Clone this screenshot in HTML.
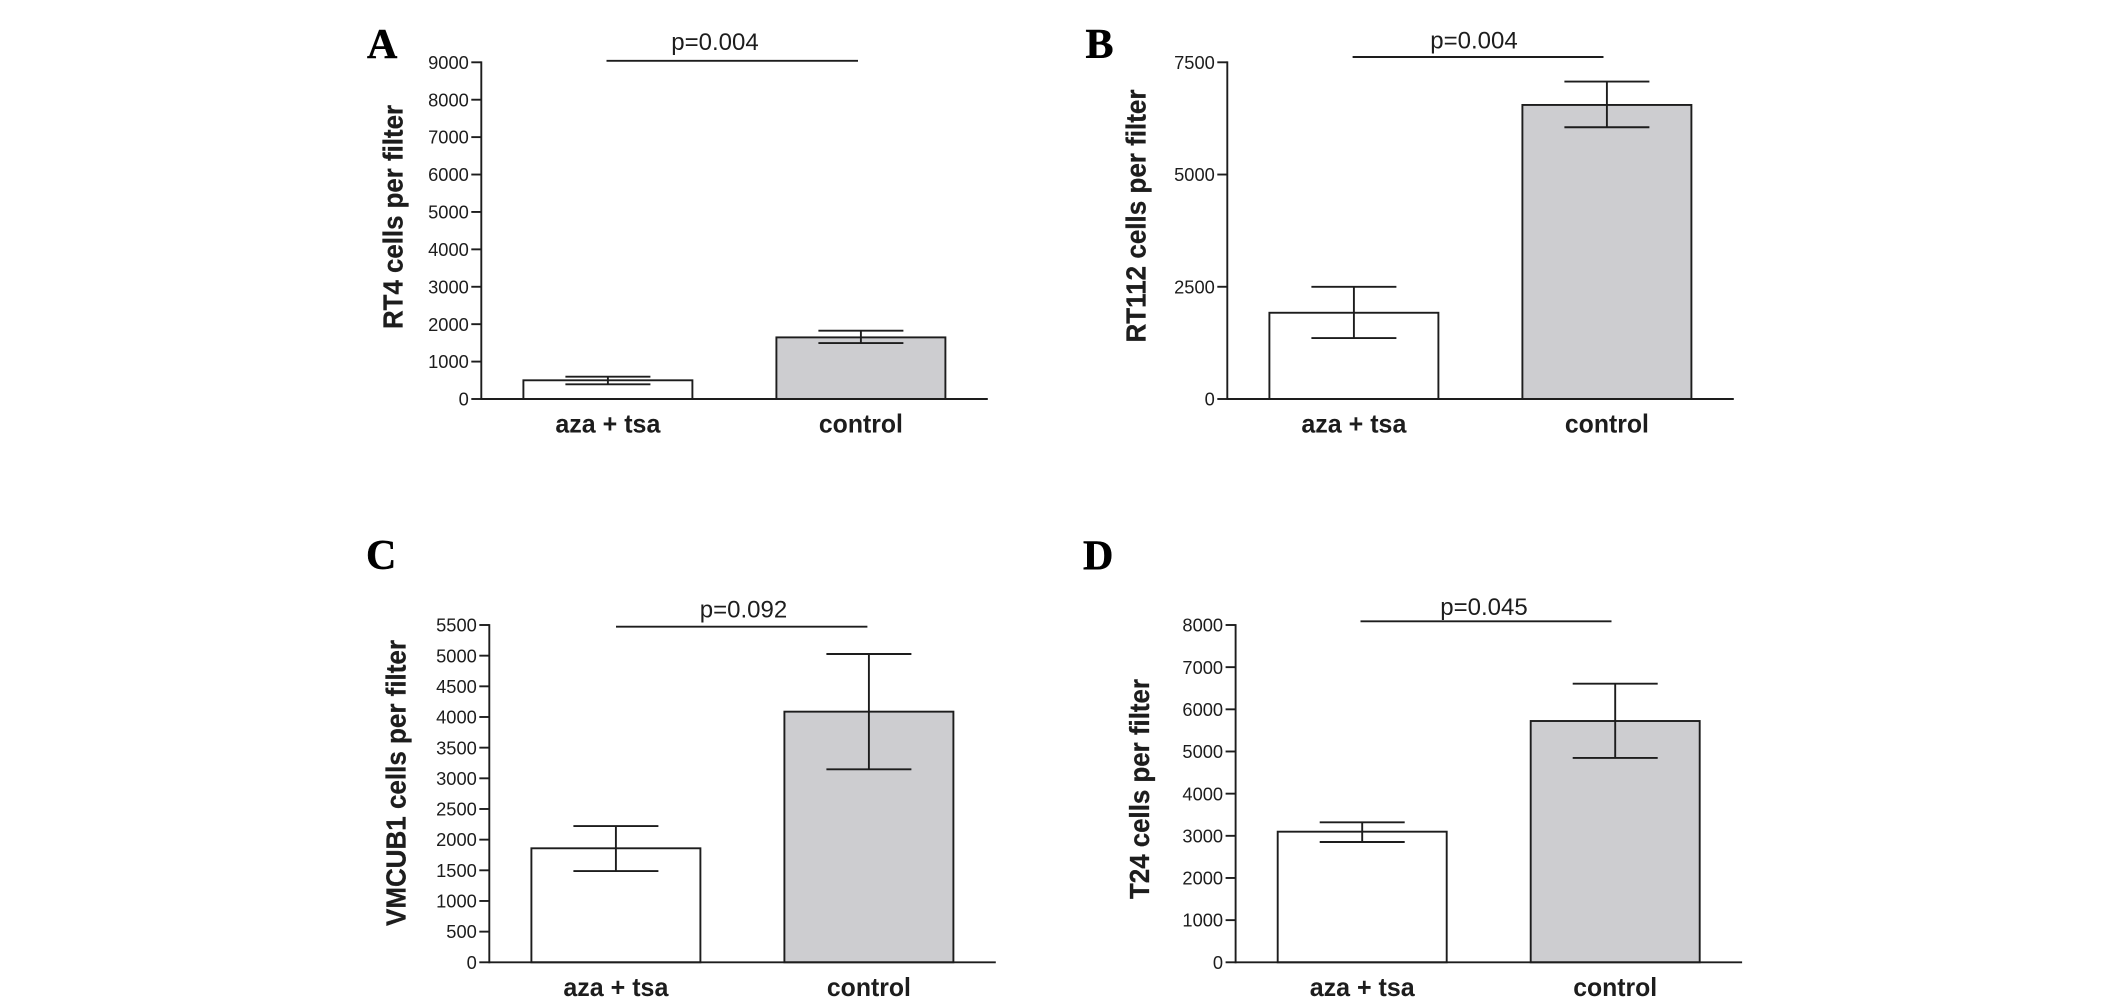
<!DOCTYPE html>
<html lang="en">
<head>
<meta charset="utf-8">
<title>Cells per filter: aza + tsa vs control</title>
<style>
html,body{margin:0;padding:0;background:#fff;}
body{width:2126px;height:1000px;overflow:hidden;}
svg{display:block;}
text{font-family:"Liberation Sans",sans-serif;fill:#1d1d1d;}
</style>
</head>
<body>
<svg id="figure" width="2126" height="1000" viewBox="0 0 2126 1000" xmlns="http://www.w3.org/2000/svg"></svg>
<script>
// ---- data ----
const categories = ['aza + tsa', 'control'];

const ticksA = [0, 1000, 2000, 3000, 4000, 5000, 6000, 7000, 8000, 9000];
const meansA = [500, 1647];
const errHighA = [596, 1825];
const errLowA = [392, 1495];

const ticksB = [0, 2500, 5000, 7500];
const meansB = [1921, 6550];
const errHighB = [2500, 7070];
const errLowB = [1358, 6053];

const ticksC = [0, 500, 1000, 1500, 2000, 2500, 3000, 3500, 4000, 4500, 5000, 5500];
const meansC = [1859, 4087];
const errHighC = [2222, 5027];
const errLowC = [1488, 3147];

const ticksD = [0, 1000, 2000, 3000, 4000, 5000, 6000, 7000, 8000];
const meansD = [3098, 5723];
const errHighD = [3320, 6608];
const errLowD = [2853, 4846];

// ---- panel layout ----
const panels = [
  {id:'a', letter:'A', letterX:367, letterY:58, axisX:481.3, top:62.3, bottom:399, title:'RT4 cells per filter', titleX:402.5, titleY:217, titleLen:224, pText:'p=0.004', pX:715, pY:50, lineX1:606.5, lineX2:858, lineY:60.8, ticks:ticksA, means:meansA, hi:errHighA, lo:errLowA},
  {id:'b', letter:'B', letterX:1085.5, letterY:58, axisX:1227.3, top:62.3, bottom:399, title:'RT112 cells per filter', titleX:1145.5, titleY:216, titleLen:253, pText:'p=0.004', pX:1474, pY:48.5, lineX1:1352.6, lineX2:1603.5, lineY:57, ticks:ticksB, means:meansB, hi:errHighB, lo:errLowB},
  {id:'c', letter:'C', letterX:366, letterY:569, axisX:489.3, top:625, bottom:962.3, title:'VMCUB1 cells per filter', titleX:405.5, titleY:783, titleLen:286, pText:'p=0.092', pX:743.5, pY:617.5, lineX1:616, lineX2:867.4, lineY:626.7, ticks:ticksC, means:meansC, hi:errHighC, lo:errLowC},
  {id:'d', letter:'D', letterX:1083, letterY:569.5, axisX:1235.6, top:625, bottom:962.3, title:'T24 cells per filter', titleX:1149, titleY:789, titleLen:220, pText:'p=0.045', pX:1484, pY:615, lineX1:1360.5, lineX2:1611.5, lineY:621.3, ticks:ticksD, means:meansD, hi:errHighD, lo:errLowD}
];

const NS = 'http://www.w3.org/2000/svg';
const INK = '#1d1d1d';
const LINE_W = 1.9;
const BAR_W = 169;
const CAP_HALF = 42.5;
const FIRST_BAR_OFFSET = 126.6;
const BAR_SPACING = 253;
const AXIS_LENGTH_X = 506.5;
const TICK_LEN = 10;
const BAR_FILLS = ['#ffffff', '#cdcdd0'];

function make(parent, tag, attrs, content) {
  const el = document.createElementNS(NS, tag);
  for (const k in attrs) el.setAttribute(k, attrs[k]);
  if (content !== undefined) el.textContent = content;
  parent.appendChild(el);
  return el;
}
function strokeLine(parent, x1, y1, x2, y2) {
  return make(parent, 'line', {x1: x1, y1: y1, x2: x2, y2: y2, stroke: INK, 'stroke-width': LINE_W});
}
function yScale(p, value) {
  const max = p.ticks[p.ticks.length - 1];
  return p.bottom - (value / max) * (p.bottom - p.top);
}
function xScale(p, index) {
  return p.axisX + FIRST_BAR_OFFSET + index * BAR_SPACING;
}

const svg = document.getElementById('figure');

panels.forEach(function (p) {
  const g = make(svg, 'g', {});
  
  

  const letter = make(g, 'text', {x: p.letterX, y: p.letterY, 'font-size': 42, 'font-weight': 'bold', stroke: '#000', 'stroke-width': 0.5, style: 'font-family:"Liberation Serif",serif;fill:#000'}, p.letter);
  
  

  const title = make(g, 'text', {x: 0, y: 0, 'font-size': 28, 'font-weight': 'bold', 'text-anchor': 'middle', stroke: INK, 'stroke-width': 0.3, textLength: p.titleLen, lengthAdjust: 'spacingAndGlyphs', transform: 'translate(' + p.titleX + ' ' + p.titleY + ') rotate(-90)'}, p.title);
  
  

  // bars first so axes and error bars sit on top
  categories.forEach(function (cat, i) {
    const cx = xScale(p, i);
    const top = yScale(p, p.means[i]);
    const bar = make(g, 'rect', {x: cx - BAR_W / 2, y: top, width: BAR_W, height: p.bottom - top, fill: BAR_FILLS[i], stroke: INK, 'stroke-width': LINE_W});
    
    

    const err = make(g, 'g', {});
    
    
    const yHi = yScale(p, p.hi[i]);
    const yLo = yScale(p, p.lo[i]);
    strokeLine(err, cx, yHi, cx, yLo);
    strokeLine(err, cx - CAP_HALF, yHi, cx + CAP_HALF, yHi);
    strokeLine(err, cx - CAP_HALF, yLo, cx + CAP_HALF, yLo);

    const label = make(g, 'text', {x: cx, y: p.bottom + 33.5, 'font-size': 26, 'font-weight': 'bold', 'text-anchor': 'middle', textLength: i === 0 ? 105 : 84, lengthAdjust: 'spacingAndGlyphs'}, cat);
    
    
  });

  const yAxis = make(g, 'g', {});
  
  
  strokeLine(yAxis, p.axisX, p.top - 0.9, p.axisX, p.bottom + 0.9);
  p.ticks.forEach(function (t) {
    const y = yScale(p, t);
    strokeLine(yAxis, p.axisX - TICK_LEN, y, p.axisX, y);
    const tl = make(yAxis, 'text', {x: p.axisX - 12.5, y: y + 6.6, 'font-size': 18.3, 'text-anchor': 'end'}, String(t));
    
    
  });

  const xAxis = strokeLine(g, p.axisX, p.bottom, p.axisX + AXIS_LENGTH_X, p.bottom);
  
  

  const sig = strokeLine(g, p.lineX1, p.lineY, p.lineX2, p.lineY);
  
  

  const pv = make(g, 'text', {x: p.pX, y: p.pY, 'font-size': 24, 'text-anchor': 'middle'}, p.pText);
  
  
});
</script>
</body>
</html>
